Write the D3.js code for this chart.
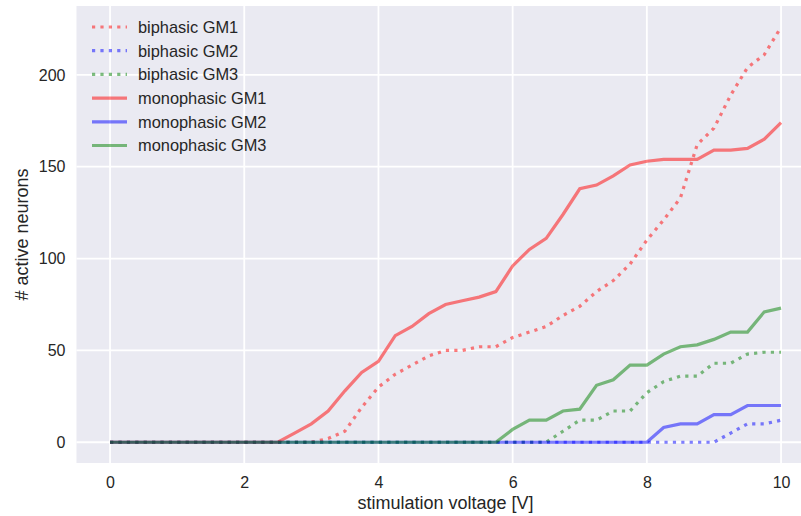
<!DOCTYPE html>
<html>
<head>
<meta charset="utf-8">
<script src="https://cdn.jsdelivr.net/npm/d3@7"></script>
<style>
  body { margin: 0; background: #fff; }
  svg { display: block; }
  text { font-family: "Liberation Sans", Arial, sans-serif; fill: #262626; }
</style>
</head>
<body>
<svg id="chart" width="801" height="516"></svg>
<script>
"use strict";

// stimulation voltage, step 0.25 V
const voltage = [0, 0.25, 0.5, 0.75, 1, 1.25, 1.5, 1.75, 2, 2.25, 2.5, 2.75, 3, 3.25, 3.5, 3.75,
  4, 4.25, 4.5, 4.75, 5, 5.25, 5.5, 5.75, 6, 6.25, 6.5, 6.75, 7, 7.25, 7.5, 7.75,
  8, 8.25, 8.5, 8.75, 9, 9.25, 9.5, 9.75, 10];

const biphasicGM1 = [0, 0, 0, 0, 0, 0, 0, 0, 0, 0, 0, 0, 0, 2, 6, 19,
  30, 37, 42, 47, 50, 50, 52, 52, 57, 60, 63, 69, 74, 82, 88, 97,
  110, 121, 133, 162, 171, 189, 204, 211, 226];
const biphasicGM2 = [0, 0, 0, 0, 0, 0, 0, 0, 0, 0, 0, 0, 0, 0, 0, 0,
  0, 0, 0, 0, 0, 0, 0, 0, 0, 0, 0, 0, 0, 0, 0, 0,
  0, 0, 0, 0, 0, 5, 10, 10, 12];
const biphasicGM3 = [0, 0, 0, 0, 0, 0, 0, 0, 0, 0, 0, 0, 0, 0, 0, 0,
  0, 0, 0, 0, 0, 0, 0, 0, 0, 0, 0, 6, 12, 12, 17, 17,
  27, 33, 36, 36, 43, 43, 48, 49, 49];
const monophasicGM1 = [0, 0, 0, 0, 0, 0, 0, 0, 0, 0, 0, 5, 10, 17, 28, 38,
  44, 58, 63, 70, 75, 77, 79, 82, 96, 105, 111, 124, 138, 140, 145, 151,
  153, 154, 154, 154, 159, 159, 160, 165, 174];
const monophasicGM2 = [0, 0, 0, 0, 0, 0, 0, 0, 0, 0, 0, 0, 0, 0, 0, 0,
  0, 0, 0, 0, 0, 0, 0, 0, 0, 0, 0, 0, 0, 0, 0, 0,
  0, 8, 10, 10, 15, 15, 20, 20, 20];
const monophasicGM3 = [0, 0, 0, 0, 0, 0, 0, 0, 0, 0, 0, 0, 0, 0, 0, 0,
  0, 0, 0, 0, 0, 0, 0, 0, 7, 12, 12, 17, 18, 31, 34, 42,
  42, 48, 52, 53, 56, 60, 60, 71, 73];

const seriesNames = ["biphasic GM1", "biphasic GM2", "biphasic GM3",
  "monophasic GM1", "monophasic GM2", "monophasic GM3"];
const seriesValues = [biphasicGM1, biphasicGM2, biphasicGM3,
  monophasicGM1, monophasicGM2, monophasicGM3];
const seriesColors = ["#ff0000", "#0000ff", "#008000", "#ff0000", "#0000ff", "#008000"];
const seriesDotted = [true, true, true, false, false, false];

const xTicks = [0, 2, 4, 6, 8, 10];
const yTicks = [0, 50, 100, 150, 200];

// the axes box runs past the right edge of the picture
const plotLeft = 76.5, plotTop = 6, plotBottom = 463, plotRight = 814.6;

const svg = d3.select("#chart");

const x = d3.scaleLinear().domain([-0.5, 10.5]).range([plotLeft, plotRight]);
const y = d3.scaleLinear().domain([-11.3, 237.5]).range([plotBottom, plotTop]);

svg.append("rect")
  .attr("x", plotLeft).attr("y", plotTop)
  .attr("width", plotRight - plotLeft).attr("height", plotBottom - plotTop)
  .attr("fill", "#eaeaf2");

// grid
const grid = svg.append("g").attr("stroke", "#fff").attr("stroke-width", 1.8);
grid.selectAll(".gx").data(xTicks).enter().append("line")
  .attr("x1", d => x(d)).attr("x2", d => x(d))
  .attr("y1", plotTop).attr("y2", plotBottom);
grid.selectAll(".gy").data(yTicks).enter().append("line")
  .attr("x1", plotLeft).attr("x2", plotRight)
  .attr("y1", d => y(d)).attr("y2", d => y(d));

// axes, only the labels show
const xAxis = svg.append("g")
  .attr("transform", `translate(0, ${plotBottom})`)
  .call(d3.axisBottom(x).tickValues(xTicks).tickSize(0).tickPadding(14));
const yAxis = svg.append("g")
  .attr("transform", `translate(${plotLeft}, 0)`)
  .call(d3.axisLeft(y).tickValues(yTicks).tickSize(0).tickPadding(11));
[xAxis, yAxis].forEach(a => {
  a.select(".domain").remove();
  a.selectAll("text").attr("font-size", 16)
    .attr("font-family", "Liberation Sans, Arial, sans-serif").attr("fill", "#262626");
});

svg.append("text")
  .attr("x", (plotLeft + plotRight) / 2).attr("y", 509)
  .attr("text-anchor", "middle").attr("font-size", 18)
  .text("stimulation voltage [V]");
svg.append("text")
  .attr("transform", `translate(28, ${(plotTop + plotBottom) / 2}) rotate(-90)`)
  .attr("text-anchor", "middle").attr("font-size", 18)
  .text("# active neurons");

// lines
const line = d3.line()
  .x((d, i) => x(voltage[i]))
  .y(d => y(d));

seriesValues.forEach((vals, k) => {
  svg.append("path")
    .datum(vals)
    .attr("d", line)
    .attr("fill", "none")
    .attr("stroke", seriesColors[k])
    .attr("stroke-opacity", 0.5)
    .attr("stroke-width", 3.2)
    .attr("stroke-dasharray", seriesDotted[k] ? "3.2,5.2" : null);
});

// legend
const legend = svg.append("g");
seriesNames.forEach((name, k) => {
  const ly = 27 + k * 23.7;
  legend.append("line")
    .attr("x1", 92).attr("x2", 127).attr("y1", ly).attr("y2", ly)
    .attr("stroke", seriesColors[k])
    .attr("stroke-opacity", 0.5)
    .attr("stroke-width", 3.2)
    .attr("stroke-dasharray", seriesDotted[k] ? "3.2,5.2" : null);
  legend.append("text")
    .attr("x", 138).attr("y", ly + 5.8)
    .attr("font-size", 16.4)
    .text(name);
});
</script>
</body>
</html>
